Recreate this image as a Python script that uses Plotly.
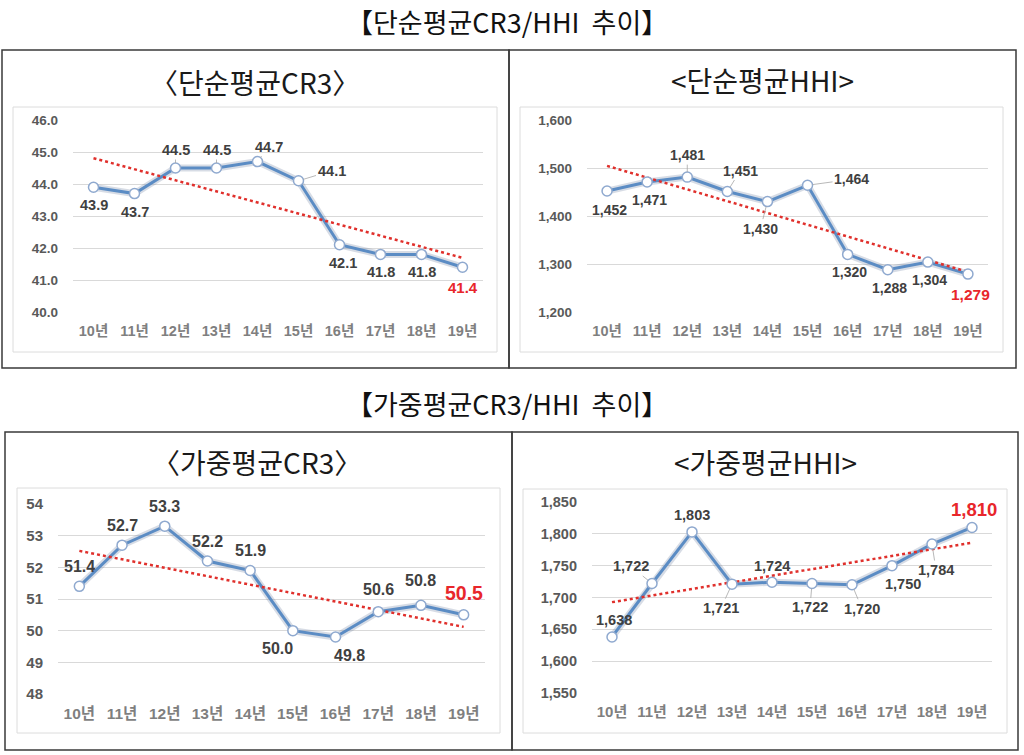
import plotly.graph_objects as go
import numpy as np

years = ["10년", "11년", "12년", "13년", "14년", "15년", "16년", "17년", "18년", "19년"]
simple_cr3 = [43.9, 43.7, 44.5, 44.5, 44.7, 44.1, 42.1, 41.8, 41.8, 41.4]
simple_hhi = [1452, 1471, 1481, 1451, 1430, 1464, 1320, 1288, 1304, 1279]
weighted_cr3 = [51.4, 52.7, 53.3, 52.2, 51.9, 50.0, 49.8, 50.6, 50.8, 50.5]
weighted_hhi = [1638, 1722, 1803, 1721, 1724, 1722, 1720, 1750, 1784, 1810]

main_titles = ["【단순평균CR3/HHI  추이】", "【가중평균CR3/HHI  추이】"]
sub_titles = ["〈단순평균CR3〉", "<단순평균HHI>", "〈가중평균CR3〉", "<가중평균HHI>"]

W, H = 1024, 755
KR = "Noto Sans CJK KR"
NUM = "Liberation Sans, Noto Sans CJK KR"


def px_x(x):
    return x / W


def px_y(y):
    return 1 - y / H


panels = [
    dict(values=simple_cr3, fmt="{:.1f}", tickformat=".1f", rng=[40, 46], dtick=1,
         dom_x=(73, 483), dom_y=(120, 312), tick_size=13.5, cat_size=14.5, lab_size=14.5, last_size=15,
         offs=[(0, -18), (0, -18), (0, 18), (0, 18), (11, 15), (33, 10), (3, -18), (0, -18), (0, -18), (0, -20)],
         leader=[0, 0, 1, 1, 1, 1, 0, 0, 0, 0],
         box=(2, 50, 509, 368), inner=(13, 107, 497, 352), sub_xy=(255, 82)),
    dict(values=simple_hhi, fmt="{:,}", tickformat=",d", rng=[1200, 1600], dtick=100,
         dom_x=(587, 988), dom_y=(120, 312), tick_size=13.5, cat_size=14.5, lab_size=14, last_size=15.5,
         offs=[(2, -19), (2, -18), (0, 22), (13, 21), (-7, -27), (44, 6), (2, -18), (2, -18), (2, -18), (3, -20)],
         leader=[0, 0, 1, 1, 1, 1, 0, 0, 0, 0],
         box=(509, 50, 1016, 368), inner=(520, 107, 1003, 352), sub_xy=(762, 80)),
    dict(values=weighted_cr3, fmt="{:.1f}", tickformat="d", rng=[48, 54], dtick=1,
         dom_x=(58, 485), dom_y=(504, 694), tick_size=15, cat_size=15.5, lab_size=16, last_size=19.5,
         offs=[(0, 20), (0, 20), (0, 20), (0, 20), (0, 20), (-15, -18), (14, -18), (0, 22), (0, 25), (0, 22)],
         leader=[0] * 10,
         box=(5, 432, 512, 750), inner=(17, 488, 500, 733), sub_xy=(257, 462)),
    dict(values=weighted_hhi, fmt="{:,}", tickformat=",d", rng=[1550, 1850], dtick=50,
         dom_x=(592, 992), dom_y=(502, 693), tick_size=14.5, cat_size=15, lab_size=14.5, last_size=18.5,
         offs=[(2, 17), (-21, 17), (0, 17), (-11, -24), (0, 16), (-2, -24), (10, -24), (11, -18), (4, -26), (2, 18)],
         leader=[0, 1, 0, 1, 0, 1, 1, 0, 1, 0],
         box=(512, 432, 1018, 750), inner=(523, 489, 1007, 733), sub_xy=(765, 462)),
]

LINE_BLUE = "#5b8cc4"
RED = "#e8262b"

fig = go.Figure()
annotations = []
shapes = []
layout_axes = {}

for i, p in enumerate(panels):
    n = "" if i == 0 else str(i + 1)
    xa, ya = "x" + n, "y" + n
    vals = p["values"]
    idx = np.arange(len(vals))
    slope, intercept = np.polyfit(idx, vals, 1)
    trend = slope * idx + intercept
    # glow under the line
    fig.add_trace(go.Scatter(x=years, y=vals, xaxis=xa, yaxis=ya, mode="lines",
                             line=dict(color="rgba(110,130,160,0.28)", width=7),
                             hoverinfo="skip", showlegend=False))
    fig.add_trace(go.Scatter(x=years, y=vals, xaxis=xa, yaxis=ya, mode="lines",
                             line=dict(color=LINE_BLUE, width=3),
                             hoverinfo="skip", showlegend=False))
    # linear trendline (least squares, as the spreadsheet trendline)
    fig.add_trace(go.Scatter(x=years, y=trend, xaxis=xa, yaxis=ya, mode="lines",
                             line=dict(color="#e0302c", width=2.5, dash="dot"),
                             hoverinfo="skip", showlegend=False))
    fig.add_trace(go.Scatter(x=years, y=vals, xaxis=xa, yaxis=ya, mode="markers",
                             marker=dict(size=10, color="white", line=dict(color="#8fa9cf", width=1.5)),
                             showlegend=False))

    x0, x1 = p["dom_x"]
    top, bot = p["dom_y"]
    layout_axes["xaxis" + n] = dict(
        domain=[px_x(x0), px_x(x1)], anchor=ya, type="category", range=[-0.5, 9.5],
        showgrid=False, zeroline=False, showline=False, ticks="", automargin=False,
        tickfont=dict(family=NUM, size=p["cat_size"], color="#7f7f7f", weight="bold"),
        ticklabelstandoff=8, fixedrange=True)
    layout_axes["yaxis" + n] = dict(
        domain=[px_y(bot), px_y(top)], anchor=xa, range=p["rng"], dtick=p["dtick"],
        tick0=p["rng"][0], tickformat=p["tickformat"], automargin=False,
        showgrid=True, gridcolor="#d9d9d9", gridwidth=1, zeroline=False, showline=False, ticks="",
        tickfont=dict(family=NUM, size=p["tick_size"], color="#595959", weight="bold"),
        ticklabelstandoff=14, fixedrange=True)

    for j, (yr, v) in enumerate(zip(years, vals)):
        last = j == len(vals) - 1
        dx, dy = p["offs"][j]
        font = dict(family=NUM, size=p["last_size"] if last else p["lab_size"],
                    color=RED if last else "#404040", weight="bold")
        if p["leader"][j]:
            annotations.append(dict(
                x=yr, y=v, xref=xa, yref=ya, text=p["fmt"].format(v), showarrow=True,
                ax=dx, ay=-dy, axref="pixel", ayref="pixel", arrowhead=0, arrowwidth=0.8,
                arrowcolor="#a6a6a6", standoff=5, font=font))
        else:
            annotations.append(dict(
                x=yr, y=v, xref=xa, yref=ya, text=p["fmt"].format(v), showarrow=False,
                xshift=dx, yshift=dy, font=font))

    bx0, by0, bx1, by1 = p["box"]
    shapes.append(dict(type="rect", xref="paper", yref="paper",
                       x0=px_x(bx0), x1=px_x(bx1), y0=px_y(by1), y1=px_y(by0),
                       line=dict(color="#3a3a3a", width=1.5), layer="below"))
    ix0, iy0, ix1, iy1 = p["inner"]
    shapes.append(dict(type="rect", xref="paper", yref="paper",
                       x0=px_x(ix0), x1=px_x(ix1), y0=px_y(iy1), y1=px_y(iy0),
                       line=dict(color="#dcdcdc", width=1), layer="below"))
    sx, sy = p["sub_xy"]
    annotations.append(dict(x=px_x(sx), y=px_y(sy), xref="paper", yref="paper",
                            text=sub_titles[i], showarrow=False, xanchor="center", yanchor="middle",
                            font=dict(family=KR, size=28, color="#1a1a1a")))

# main titles: the first is anchored at the very top so it is not cut off
annotations.append(dict(x=px_x(507), y=1, xref="paper", yref="paper",
                        text=main_titles[0], showarrow=False, xanchor="center", yanchor="top",
                        font=dict(family=KR, size=27, color="#111111")))
annotations.append(dict(x=px_x(507), y=px_y(403), xref="paper", yref="paper",
                        text=main_titles[1], showarrow=False, xanchor="center", yanchor="middle",
                        font=dict(family=KR, size=27, color="#111111")))

fig.update_layout(width=W, height=H, margin=dict(l=0, r=0, t=0, b=0),
                  paper_bgcolor="white", plot_bgcolor="white",
                  annotations=annotations, shapes=shapes, showlegend=False, **layout_axes)

fig.write_html("out.html", config={"displayModeBar": False},
               post_script="document.body.style.margin='0';document.body.style.overflow='hidden';")
